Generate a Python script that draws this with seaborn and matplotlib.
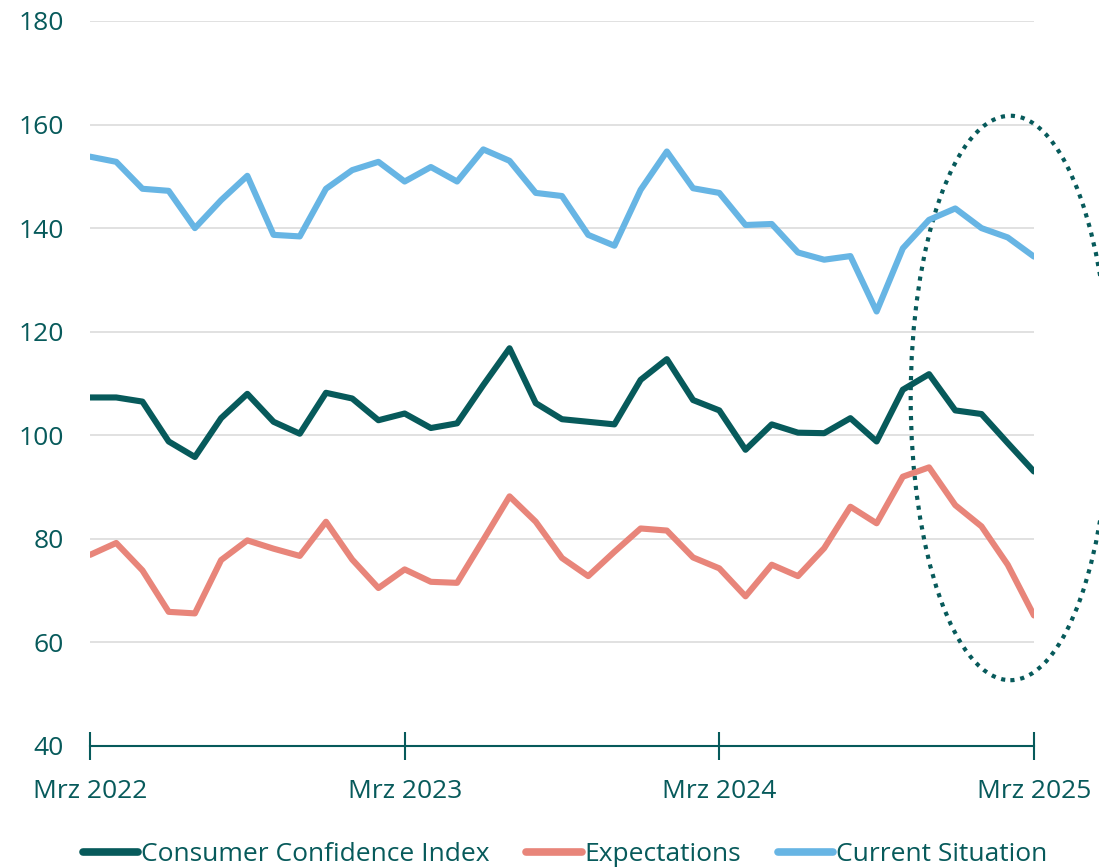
import pandas as pd
import matplotlib.pyplot as plt
import seaborn as sns
from matplotlib.patches import Ellipse

# monthly values, Mrz 2022 .. Mrz 2025
months = pd.date_range("2022-03-01", "2025-03-01", freq="MS")
cci = [107.3, 107.3, 106.5, 98.8, 95.8, 103.3, 108.0, 102.6, 100.3, 108.2, 107.1, 102.9,
       104.2, 101.4, 102.3, 109.7, 116.8, 106.2, 103.1, 102.6, 102.1, 110.7, 114.7, 106.8,
       104.8, 97.2, 102.1, 100.5, 100.4, 103.3, 98.8, 108.8, 111.8, 104.8, 104.1, 98.5, 93.0]
expectations = [76.9, 79.2, 73.9, 65.9, 65.6, 75.9, 79.7, 78.1, 76.7, 83.3, 76.0, 70.5,
                74.1, 71.7, 71.5, 79.8, 88.2, 83.3, 76.3, 72.8, 77.5, 82.0, 81.6, 76.4,
                74.3, 68.9, 75.0, 72.8, 78.2, 86.2, 83.0, 92.0, 93.8, 86.5, 82.4, 75.0, 65.2]
current = [153.8, 152.8, 147.6, 147.2, 140.0, 145.4, 150.1, 138.7, 138.4, 147.6, 151.2, 152.8,
           149.0, 151.8, 149.0, 155.2, 153.0, 146.8, 146.2, 138.7, 136.6, 147.4, 154.8, 147.7,
           146.8, 140.6, 140.8, 135.3, 133.9, 134.6, 123.9, 136.1, 141.6, 143.8, 140.0, 138.2, 134.5]
series_names = ["Consumer Confidence Index", "Expectations", "Current Situation"]
tick_labels = ["Mrz 2022", "Mrz 2023", "Mrz 2024", "Mrz 2025"]

teal = "#075a5b"
palette = {"Consumer Confidence Index": teal,
           "Expectations": "#e8857a",
           "Current Situation": "#67b5e4"}

n = len(months)
df = pd.DataFrame({
    "t": list(range(n)) * 3,
    "value": cci + expectations + current,
    "series": [series_names[0]] * n + [series_names[1]] * n + [series_names[2]] * n,
})

sns.set_style("white")
plt.rcParams["font.family"] = ["Open Sans", "DejaVu Sans"]

fig = plt.figure(figsize=(10.99, 8.67), dpi=100)
ax = fig.add_axes([0.0819, 0.1396, 0.8589, 0.8362])

sns.lineplot(data=df, x="t", y="value", hue="series", palette=palette,
             hue_order=series_names, linewidth=4.4, ax=ax, legend=True)

ax.set_xlim(0, n - 1)
ax.set_ylim(40, 180)
ax.set_yticks(range(40, 181, 20))
ax.set_xticks([0, 12, 24, 36])
ax.set_xticklabels(tick_labels)
ax.set_xlabel("")
ax.set_ylabel("")

ax.grid(axis="y", color="#dedede", linewidth=1.3)
ax.set_axisbelow(True)
for s in ["top", "right", "left"]:
    ax.spines[s].set_visible(False)
ax.spines["bottom"].set_color(teal)
ax.spines["bottom"].set_linewidth(1.5)
ax.tick_params(axis="x", bottom=True, direction="inout", length=20, width=1.5, color=teal,
               labelcolor=teal, labelsize=19, pad=14)
ax.tick_params(axis="y", left=False, length=0, labelcolor=teal, labelsize=19, pad=19)

# dotted ellipse around the latest months
ell = Ellipse((35.1, 107.2), width=7.6, height=109, fill=False, edgecolor=teal,
              linestyle=(0, (1, 1.4)), linewidth=3, clip_on=False)
ax.add_patch(ell)

leg = ax.legend(loc="upper center", bbox_to_anchor=(0.503, -0.1), ncol=3, frameon=False,
                fontsize=19, handlelength=2.1, handletextpad=0.1, columnspacing=1.4)
for t in leg.get_texts():
    t.set_color(teal)
for h in leg.get_lines():
    h.set_linewidth(5.5)

plt.savefig("out.png", dpi=100)
